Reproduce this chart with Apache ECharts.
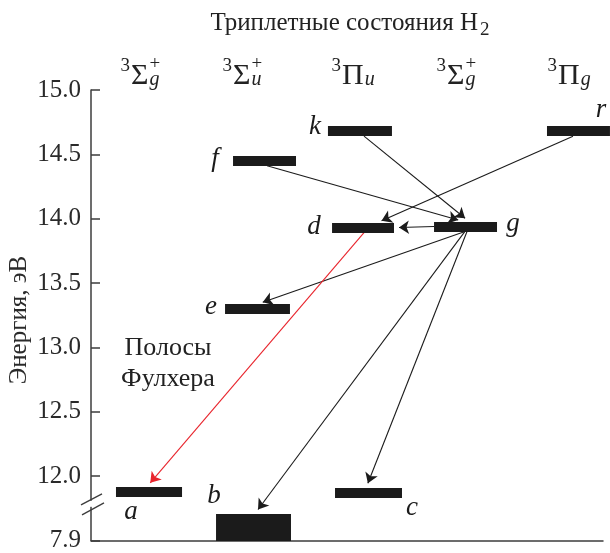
<!DOCTYPE html>
<html><head><meta charset="utf-8">
<script src="https://cdn.jsdelivr.net/npm/echarts@6/dist/echarts.min.js"></script>
<style>html,body{margin:0;padding:0;background:#fff}#c{width:610px;height:553px;font-family:'Liberation Serif',serif}</style>
</head><body><div id="c"></div>
<script>
// ---------- data ----------
const titleMain = 'Триплетные состояния H';
const titleSub = '2';
const yAxisTitle = 'Энергия, эВ';
const fulcherLines = ['Полосы', 'Фулхера'];
const yTickValues = [11.5, 12.0, 12.5, 13.0, 13.5, 14.0, 14.5, 15.0];
const yTickLabels = ['7.9', '12.0', '12.5', '13.0', '13.5', '14.0', '14.5', '15.0'];
const headerMult = ['3', '3', '3', '3', '3'];
const headerMain = ['Σ', 'Σ', 'Π', 'Σ', 'Π'];
const headerSub = ['g', 'u', 'u', 'g', 'g'];
const headerSup = ['+', '+', '', '+', ''];

const levelNames = ['a', 'b', 'c', 'd', 'e', 'f', 'g', 'k', 'r'];
const levelLow   = [11.88, 11.50, 11.87, 13.93, 13.30, 14.45, 13.94, 14.68, 14.68];
const levelHigh  = [11.88, 11.71, 11.87, 13.93, 13.30, 14.45, 13.94, 14.68, 14.68];
const levelX0    = [0.244, 1.221, 2.383, 2.354, 1.309, 1.387, 3.350, 2.314, 4.453];
const levelX1    = [0.889, 1.953, 3.037, 2.959, 1.943, 2.002, 3.965, 2.939, 5.068];

const arrowFrom  = ['k', 'f', 'r', 'g', 'g', 'g', 'g', 'd'];
const arrowTo    = ['g', 'g', 'd', 'd', 'e', 'b', 'c', 'a'];
const arrowFromX = [2.666, 1.719, 4.707, 3.350, 3.652, 3.652, 3.672, 2.666];
const arrowToX   = [3.691, 3.633, 2.793, 2.959, 1.631, 1.602, 2.686, 0.547];
const arrowRed   = [0, 0, 0, 0, 0, 0, 0, 1];

// ---------- style ----------
const FAM = 'Liberation Serif';
const INK = '#1b1b1b';
const TXT = '#222';
const AXIS = '#3c3c3c';
const RED = '#e8242c';
const BAR_HALF = 5;
const ARROW = 10;
const labelPlace = {
  a: {ref: 'x0', dx: 15, dy: 20},
  b: {ref: 'x0', dx: -2, dy: -18},
  c: {ref: 'x1', dx: 10, dy: 15},
  d: {ref: 'x0', dx: -18, dy: -1},
  e: {ref: 'x0', dx: -14, dy: -2},
  f: {ref: 'x0', dx: -18, dy: -2},
  g: {ref: 'x1', dx: 16, dy: -3},
  k: {ref: 'x0', dx: -13, dy: -4},
  r: {ref: 'x0', dx: 54, dy: -21}
};
const idx = n => levelNames.indexOf(n);
function txt(x, y, text, size, opts) {
  return {type: 'text', x: x, y: y, style: Object.assign({
    text: text, fontFamily: FAM, fontSize: size, fill: TXT, align: 'left', verticalAlign: 'middle'
  }, opts || {})};
}

// warm the font cache with plain canvas text before charting
const warm = document.createElement('canvas').getContext('2d');
['', 'italic '].forEach(st => [18, 19, 20, 24, 25, 26, 27, 30].forEach(s => {
  warm.font = st + s + 'px "' + FAM + '"';
  warm.fillText('Полосы 15.0 ΣΠ abc', 0, 20);
}));

const chart = echarts.init(document.getElementById('c'));
const baseOption = {
  animation: false,
  grid: {left: 91, right: 7, top: 90, bottom: 7},
  xAxis: {
    type: 'value', min: 0, max: 5,
    axisLine: {show: true, onZero: false, lineStyle: {color: AXIS, width: 1.5}},
    axisTick: {show: false}, axisLabel: {show: false}, splitLine: {show: false}
  },
  yAxis: {
    type: 'value', min: 11.5, max: 15.0, interval: 0.5,
    axisLine: {show: true, lineStyle: {color: AXIS, width: 1.5}},
    axisTick: {show: true, inside: true, length: 9, lineStyle: {color: AXIS, width: 1.5}},
    axisLabel: {
      fontFamily: FAM, fontSize: 25, color: '#2a2a2a', margin: 10,
      formatter: v => { const k = yTickValues.findIndex(t => Math.abs(t - v) < 1e-6); return k >= 0 ? yTickLabels[k] : ''; }
    },
    splitLine: {show: false}
  }
};

function render() {
  chart.clear();
  chart.setOption(baseOption);
  const toPx = (x, y) => chart.convertToPixel({gridIndex: 0}, [x, y]);
  const toData = p => chart.convertFromPixel({gridIndex: 0}, p);

  const levelLines = levelNames.map((n, i) => {
    const thin = levelLow[i] === levelHigh[i];
    const mid = (levelLow[i] + levelHigh[i]) / 2;
    const w = thin ? 2 * BAR_HALF : Math.abs(toPx(0, levelLow[i])[1] - toPx(0, levelHigh[i])[1]);
    return {coords: [[levelX0[i], mid], [levelX1[i], mid]], lineStyle: {width: w}};
  });

  const blackArrows = [], redArrows = [];
  arrowFrom.forEach((f, i) => {
    const fi = idx(f), ti = idx(arrowTo[i]);
    const p1 = toPx(arrowFromX[i], levelLow[fi]);
    const p2 = toPx(arrowToX[i], levelHigh[ti]);
    const horizontal = Math.abs(levelLow[fi] - levelHigh[ti]) < 0.05;
    if (!horizontal) {
      if (levelLow[fi] === levelHigh[fi]) p1[1] += BAR_HALF;
      if (levelLow[ti] === levelHigh[ti]) p2[1] -= BAR_HALF;
    }
    const dx = p2[0] - p1[0], dy = p2[1] - p1[1], len = Math.hypot(dx, dy);
    const q2 = [p2[0] - dx / len * ARROW / 2, p2[1] - dy / len * ARROW / 2];
    (arrowRed[i] ? redArrows : blackArrows).push({coords: [toData(p1), toData(q2)]});
  });
  const arrowSeries = (data, color) => ({
    type: 'lines', coordinateSystem: 'cartesian2d', data: data, clip: false, silent: true, z: 3,
    symbol: ['none', 'arrow'], symbolSize: ARROW,
    lineStyle: {color: color, width: 1.1, opacity: 1, curveness: 0}
  });

  const g = [];
  levelNames.forEach((n, i) => {
    const thin = levelLow[i] === levelHigh[i];
    const pl = labelPlace[n];
    const px = toPx(pl.ref === 'x0' ? levelX0[i] : levelX1[i], thin ? levelLow[i] : levelHigh[i]);
    g.push(txt(px[0] + pl.dx, px[1] + pl.dy, n, 27, {fontStyle: 'italic', align: 'center', fill: INK}));
  });
  g.push(txt(478, 23.5, titleMain, 25, {align: 'right'}));
  g.push(txt(480, 30, titleSub, 19));
  warm.font = '30px "' + FAM + '"';
  const headerLeft = [131, 233, 342, 447, 558];
  headerMain.forEach((m, i) => {
    const xg = headerLeft[i];
    const xs = xg + warm.measureText(m).width + 1;
    g.push(txt(xg - 1, 66.5, headerMult[i], 19, {align: 'right'}));
    g.push(txt(xg, 76.5, m, 30));
    g.push(txt(xs, 80, headerSub[i], 20, {fontStyle: 'italic'}));
    if (headerSup[i]) g.push(txt(xs, 64, headerSup[i], 19));
  });
  const yName = txt(19, 320, yAxisTitle, 25, {align: 'center', fill: '#2a2a2a'});
  yName.rotation = Math.PI / 2;
  g.push(yName);
  g.push(txt(168, 348, fulcherLines[0], 26, {align: 'center'}));
  g.push(txt(168, 379, fulcherLines[1], 26, {align: 'center'}));
  const bp = toPx(0, 11.785);
  const bx = bp[0], by = bp[1];
  g.push({type: 'rect', shape: {x: bx - 3, y: by - 3, width: 6, height: 6}, style: {fill: '#fff'}, z: 10});
  g.push({type: 'line', shape: {x1: bx - 10, y1: by + 1, x2: bx + 11, y2: by - 10}, style: {stroke: AXIS, lineWidth: 1.3}, z: 11});
  g.push({type: 'line', shape: {x1: bx - 9, y1: by + 11, x2: bx + 13, y2: by - 1}, style: {stroke: AXIS, lineWidth: 1.3}, z: 11});

  chart.setOption({
    graphic: g,
    series: [
      arrowSeries(blackArrows, INK),
      arrowSeries(redArrows, RED),
      {
        type: 'lines', coordinateSystem: 'cartesian2d', data: levelLines, clip: false, silent: true, z: 4,
        symbol: 'none', lineStyle: {color: INK, width: 2 * BAR_HALF, opacity: 1, curveness: 0}
      }
    ]
  });
}

render();
// redraw once fonts are confirmed available
if (document.fonts && document.fonts.load) {
  Promise.all([document.fonts.load('25px "' + FAM + '"'), document.fonts.load('italic 27px "' + FAM + '"')])
    .then(() => render()).catch(() => {});
}
setTimeout(render, 150);
setTimeout(render, 600);
</script>
</body></html>
